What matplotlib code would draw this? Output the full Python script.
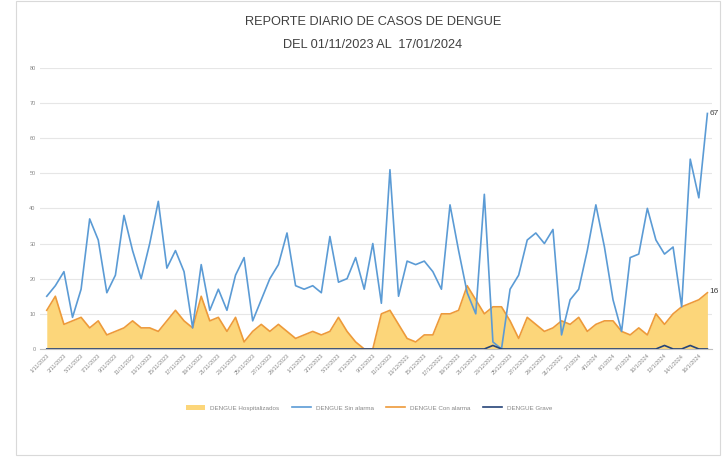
import matplotlib
matplotlib.use("Agg")
import matplotlib.pyplot as plt
from matplotlib.patches import Rectangle, Patch
from matplotlib.lines import Line2D
import datetime as dt

plt.rcParams['font.family'] = ['Liberation Sans Narrow', 'Liberation Sans', 'DejaVu Sans']

start = dt.date(2023, 11, 1)
dates = [start + dt.timedelta(days=i) for i in range(78)]
date_labels = [f"{d.day}/{d.month}/{d.year}" for d in dates]

sin_alarma = [15, 18, 22, 9, 17, 37, 31, 16, 21, 38, 28, 20, 30, 42, 23, 28, 22, 6, 24, 11,
              17, 11, 21, 26, 8, 14, 20, 24, 33, 18, 17, 18, 16, 32, 19, 20, 26, 17, 30, 13,
              51, 15, 25, 24, 25, 22, 17, 41, 28, 16, 10, 44, 2, 0, 17, 21, 31, 33, 30, 34,
              4, 14, 17, 28, 41, 29, 14, 5, 26, 27, 40, 31, 27, 29, 12, 54, 43, 67]
con_alarma = [11, 15, 7, 8, 9, 6, 8, 4, 5, 6, 8, 6, 6, 5, 8, 11, 8, 6, 15, 8,
              9, 5, 9, 2, 5, 7, 5, 7, 5, 3, 4, 5, 4, 5, 9, 5, 2, 0, 0, 10,
              11, 7, 3, 2, 4, 4, 10, 10, 11, 18, 14, 10, 12, 12, 8, 3, 9, 7, 5, 6,
              8, 7, 9, 5, 7, 8, 8, 5, 4, 6, 4, 10, 7, 10, 12, 13, 14, 16]
hospitalizados = [11, 15, 7, 8, 9, 6, 8, 4, 5, 6, 8, 6, 6, 5, 8, 11, 8, 6, 15, 8,
                  9, 5, 9, 2, 5, 7, 5, 7, 5, 3, 4, 5, 4, 5, 9, 5, 2, 0, 0, 10,
                  11, 7, 3, 2, 4, 4, 10, 10, 11, 18, 14, 10, 12, 12, 8, 3, 9, 7, 5, 6,
                  8, 7, 9, 5, 7, 8, 8, 5, 4, 6, 4, 10, 7, 10, 12, 13, 14, 16]
grave = [0] * 52 + [1] + [0] * 19 + [1, 0, 0, 1, 0, 0]

series_names = ["DENGUE Hospitalizados", "DENGUE Sin alarma", "DENGUE Con alarma", "DENGUE Grave"]
yticks = [0, 10, 20, 30, 40, 50, 60, 70, 80]

fig = plt.figure(figsize=(7.24, 4.61), dpi=100)
fig.patches.append(Rectangle((0.022, 0.012), 0.972, 0.985, transform=fig.transFigure,
                             fill=False, edgecolor='#D9D9D9', linewidth=0.8))
ax = fig.add_axes([0.055, 0.243, 0.928, 0.61])

x = list(range(len(dates)))
ax.fill_between(x, hospitalizados, color='#FCD67A', linewidth=0, zorder=1)
ax.plot(x, sin_alarma, color='#5B9BD5', linewidth=1.2, zorder=3)
ax.plot(x, con_alarma, color='#ED9A3A', linewidth=1.2, zorder=2)
ax.plot(x, grave, color='#264478', linewidth=1.2, zorder=4)

ax.annotate(str(sin_alarma[-1]), (x[-1], sin_alarma[-1]), xytext=(1.5, 0), textcoords='offset points',
            fontsize=6, color='#404040', va='center', ha='left', annotation_clip=False)
ax.annotate(str(con_alarma[-1]), (x[-1], con_alarma[-1]), xytext=(1.5, 1), textcoords='offset points',
            fontsize=6, color='#404040', va='center', ha='left', annotation_clip=False)

ax.set_xlim(-0.81, 77.5)
ax.set_ylim(0, 80)
ax.set_yticks(yticks)
ax.set_yticklabels([str(v) for v in yticks], fontsize=4, color='#888888')
ax.set_xticks(x[::2])
ax.set_xticklabels(date_labels[::2], rotation=45, ha='right', rotation_mode='anchor',
                   fontsize=4, color='#888888')
ax.tick_params(axis='both', length=0, pad=3)
ax.grid(axis='y', color='#E6E6E6', linewidth=0.8)
ax.set_axisbelow(True)
for s in ['top', 'right', 'left']:
    ax.spines[s].set_visible(False)
ax.spines['bottom'].set_color('#BFBFBF')

fig.text(0.515, 0.952, "REPORTE DIARIO DE CASOS DE DENGUE", ha='center', va='center',
         fontsize=9.2, color='#404040')
fig.text(0.515, 0.903, "DEL 01/11/2023 AL  17/01/2024", ha='center', va='center',
         fontsize=9.2, color='#404040')

handles = [Patch(facecolor='#FCD67A', edgecolor='none'),
           Line2D([0], [0], color='#5B9BD5', lw=1.2),
           Line2D([0], [0], color='#ED9A3A', lw=1.2),
           Line2D([0], [0], color='#264478', lw=1.2)]
fig.legend(handles, series_names, loc='center', bbox_to_anchor=(0.51, 0.115), ncol=4,
           frameon=False, fontsize=4.5, labelcolor='#888888', handlelength=3, columnspacing=2)

fig.savefig("out.png", dpi=100, facecolor='white')
